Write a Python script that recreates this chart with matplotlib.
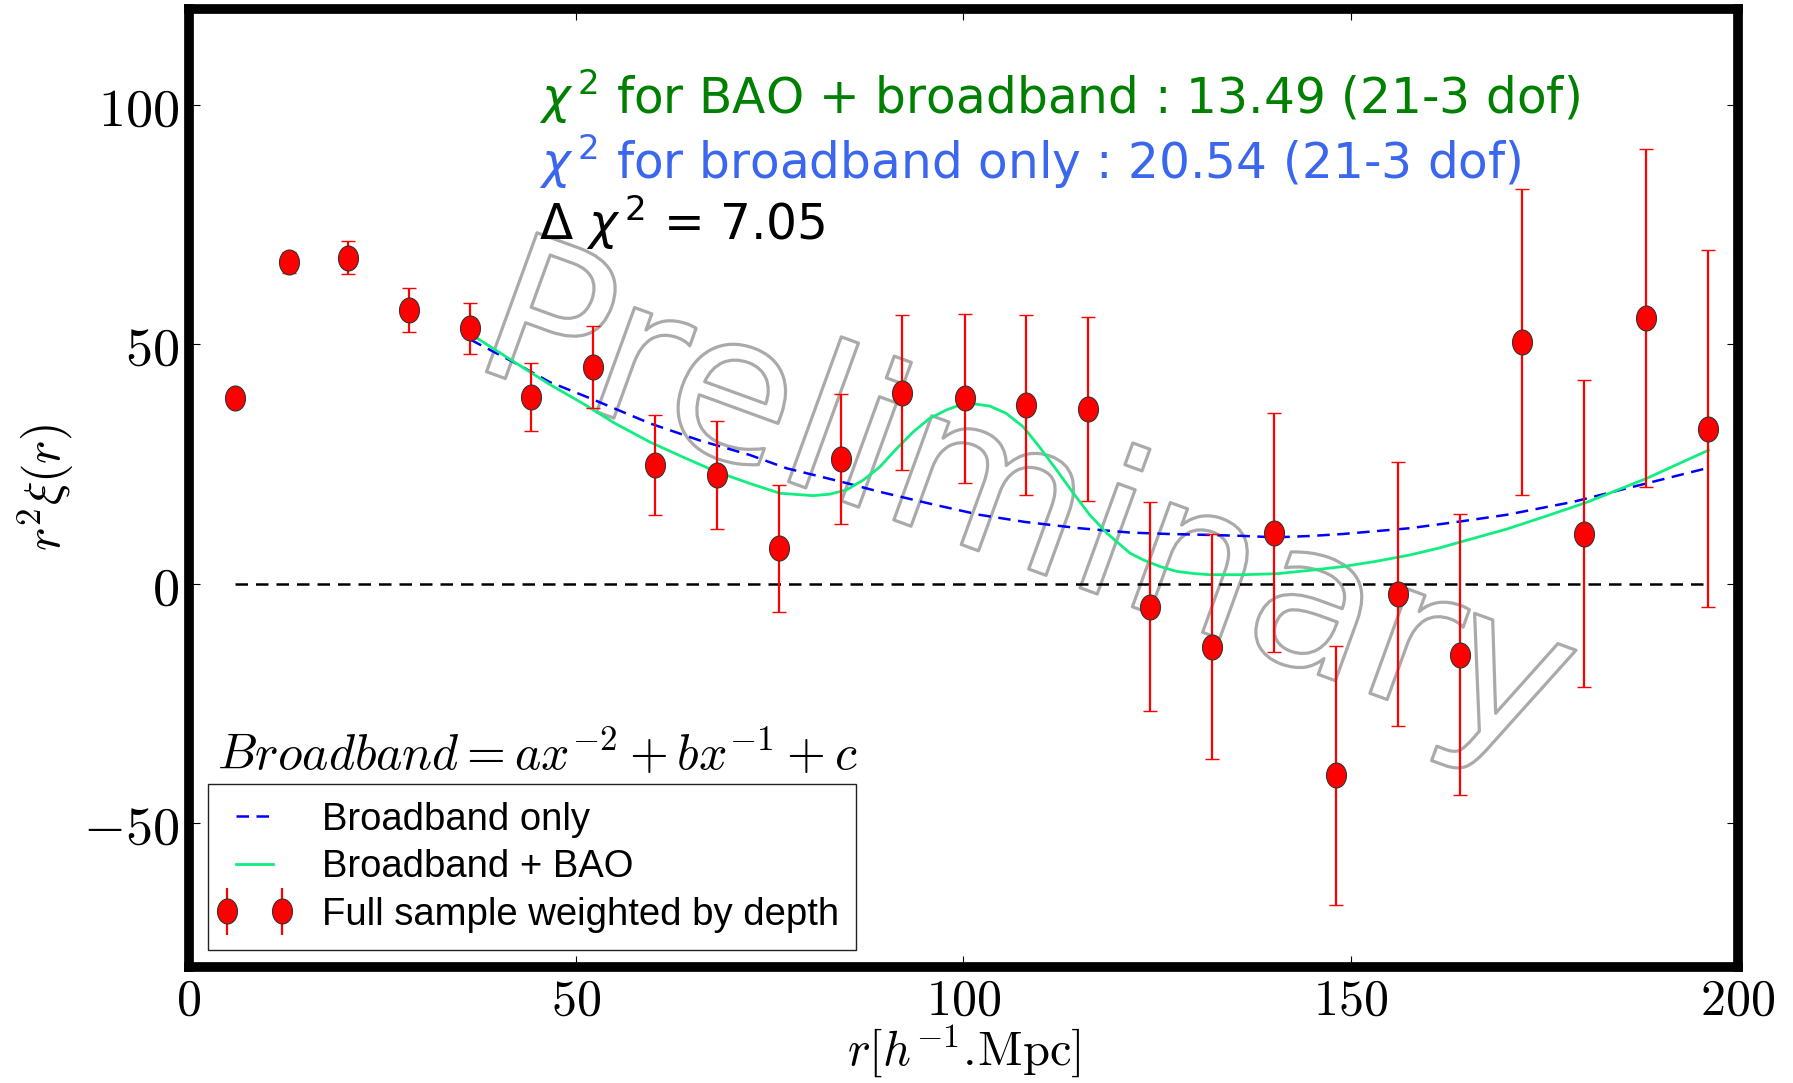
import numpy as np
import matplotlib
matplotlib.use("Agg")
import matplotlib.pyplot as plt
import matplotlib.patheffects as pe
from matplotlib.path import Path
from matplotlib.markers import MarkerStyle
from matplotlib.font_manager import FontProperties
from matplotlib.transforms import Affine2D
from matplotlib.legend_handler import HandlerErrorbar

plt.rcParams['mathtext.fontset'] = 'cm'

# measured points (r^2 xi) with 1-sigma errors
r = [6.0, 12.9, 20.5, 28.4, 36.3, 44.2, 52.2, 60.2, 68.2, 76.2, 84.2, 92.1, 100.2,
     108.1, 116.1, 124.1, 132.1, 140.1, 148.1, 156.1, 164.1, 172.1, 180.1, 188.1, 196.1]
xi = [38.8, 67.1, 68.1, 57.1, 53.3, 39.0, 45.3, 24.8, 22.7, 7.4, 26.0, 39.9, 38.7,
      37.3, 36.5, -4.8, -13.1, 10.7, -40.0, -2.1, -14.8, 50.5, 10.5, 55.5, 32.4]
err = [1.0, 2.2, 3.5, 4.6, 5.3, 7.0, 8.5, 10.5, 11.3, 13.3, 13.6, 16.2, 17.6,
       18.8, 19.2, 21.8, 23.5, 25.0, 27.0, 27.5, 29.3, 32.0, 32.0, 35.3, 37.3]

# broadband-only fit
r_bb = [36.3, 42.0, 46.6, 52.0, 59.5, 66.0, 72.4, 77.2, 84.0, 89.2, 96.0, 102.1, 108.0,
        115.0, 121.5, 126.5, 131.8, 136.0, 140.4, 145.0, 149.0, 157.6, 164.1, 170.1,
        178.7, 187.3, 195.9]
xi_bb = [51.0, 46.2, 42.1, 38.6, 33.5, 29.9, 26.9, 24.1, 21.4, 19.2, 16.6, 14.4, 12.9,
         11.6, 10.7, 10.4, 10.2, 10.0, 9.7, 10.0, 10.4, 11.6, 13.0, 14.4, 17.1, 20.6, 24.1]

# broadband + BAO fit
r_bao = [36.3, 42.3, 46.5, 50.9, 55.0, 59.5, 64.0, 68.1, 72.5, 76.3, 80.6, 82.7, 84.9,
         87.1, 89.2, 91.3, 93.5, 95.6, 97.8, 99.5, 101.2, 103.4, 105.5, 107.7, 109.8,
         112.0, 114.2, 116.3, 118.5, 121.5, 123.2, 125.4, 127.5, 129.7, 131.8, 136.1,
         140.4, 144.7, 149.0, 153.3, 157.6, 161.5, 164.1, 170.1, 175.0, 180.3, 188.2, 196.2]
xi_bao = [52.2, 46.0, 41.7, 37.6, 33.5, 29.6, 26.3, 23.4, 20.9, 18.9, 18.4, 18.7, 19.6,
          21.7, 24.4, 28.1, 31.7, 34.5, 36.3, 37.3, 37.6, 37.1, 35.6, 32.8, 28.6,
          23.8, 18.9, 14.4, 10.6, 6.4, 5.0, 3.6, 2.6, 2.15, 1.9, 1.9,
          2.1, 2.8, 3.6, 4.7, 6.0, 7.5, 8.7, 11.4, 14.0, 16.9, 22.0, 27.9]

xticks = [0, 50, 100, 150, 200]
yticks = [-50, 0, 50, 100]

fig = plt.figure(figsize=(17.93, 10.83), dpi=100)
ax = fig.add_axes([0.1054, 0.1071, 0.8639, 0.8846])

# "Preliminary" watermark, hollow outlined letters
ax.text(36.0, 45.7, "Preliminary", fontsize=146, family="DejaVu Sans", color=(1, 1, 1, 0),
        rotation=-20, rotation_mode='anchor', ha='left', va='baseline', zorder=1.5,
        path_effects=[pe.Stroke(linewidth=2.3, foreground='#aaaaaa')])

ax.plot([r[0], r[-1]], [0, 0], color='k', ls='--', lw=1.8, dashes=(5, 3.2), zorder=2)
ax.plot(r_bb, xi_bb, color='b', ls='--', lw=1.8, dashes=(5, 3), label='Broadband only', zorder=3)
ax.plot(r_bao, xi_bao, color='#11ee80', lw=2.0, label='Broadband + BAO', zorder=3)

ell = MarkerStyle(Path.unit_circle().transformed(Affine2D().scale(0.8, 1.0)))
ax.errorbar(r, xi, yerr=err, fmt='none', ecolor='r', elinewidth=1.6, capsize=5,
            capthick=1, zorder=4)
ax.plot(r, xi, ls='none', marker=ell, ms=18, mfc='r', mec='#333333', mew=0.8, zorder=5)

ax.set_xlim(0, 200)
ax.set_ylim(-80, 120)
ax.set_xticks(xticks, labels=[f'${t}$' for t in xticks])
ax.set_yticks(yticks, labels=[f'${t}$' for t in yticks])
ax.tick_params(direction='in', length=8, width=0.8, top=True, right=True, pad=7)
ax.tick_params(axis='x', labelsize=36)
ax.tick_params(axis='y', labelsize=39)
for s in ax.spines.values():
    s.set_linewidth(7)

ax.set_xlabel(r'$r[h^{-1}.\!\mathrm{Mpc}]$', fontsize=35)
ax.xaxis.set_label_coords(0.5, -0.058)
ax.set_ylabel(r'$r^2\xi(r)$', fontsize=36)
ax.yaxis.set_label_coords(-0.073, 0.5)

ax.text(45.2, 98.1, r'$\chi^{\,2}$ for BAO + broadband : 13.49 (21-3 dof)', color='green',
        fontsize=35, family='DejaVu Sans', math_fontfamily='dejavusans', va='baseline')
ax.text(45.2, 84.6, r'$\chi^{\,2}$ for broadband only : 20.54 (21-3 dof)', color='#3b66ee',
        fontsize=35, family='DejaVu Sans', math_fontfamily='dejavusans', va='baseline')
ax.text(45.2, 71.7, r'$\Delta\ \chi^{\,2}$ = 7.05', color='black',
        fontsize=35, family='DejaVu Sans', math_fontfamily='dejavusans', va='baseline')

ax.text(3.6, -38.8, r'$Broadband = ax^{-2}+bx^{-1}+c$', fontsize=36, va='baseline')

# legend: two fit lines plus the marker+errorbar entry
handles, labels = ax.get_legend_handles_labels()
pts = ax.errorbar([], [], yerr=[], marker=ell, ms=18, mfc='r', mec='#333333', mew=0.8,
                  ls='none', ecolor='r', elinewidth=1.6, capsize=5, capthick=1)
leg = ax.legend(handles + [pts], labels + ['Full sample weighted by depth'],
                handler_map={pts: HandlerErrorbar(marker_pad=0.05, numpoints=2, yerr_size=0.62)},
                loc='lower left', bbox_to_anchor=(0.012, 0.018), borderaxespad=0,
                numpoints=2, fancybox=False, framealpha=1, edgecolor='#222222',
                prop=FontProperties(family='Liberation Sans', size=27.5),
                handlelength=1.55, labelspacing=0.3, borderpad=0.45, handletextpad=1.0)
leg.get_frame().set_linewidth(1.0)

fig.savefig("out.png", dpi=100)
